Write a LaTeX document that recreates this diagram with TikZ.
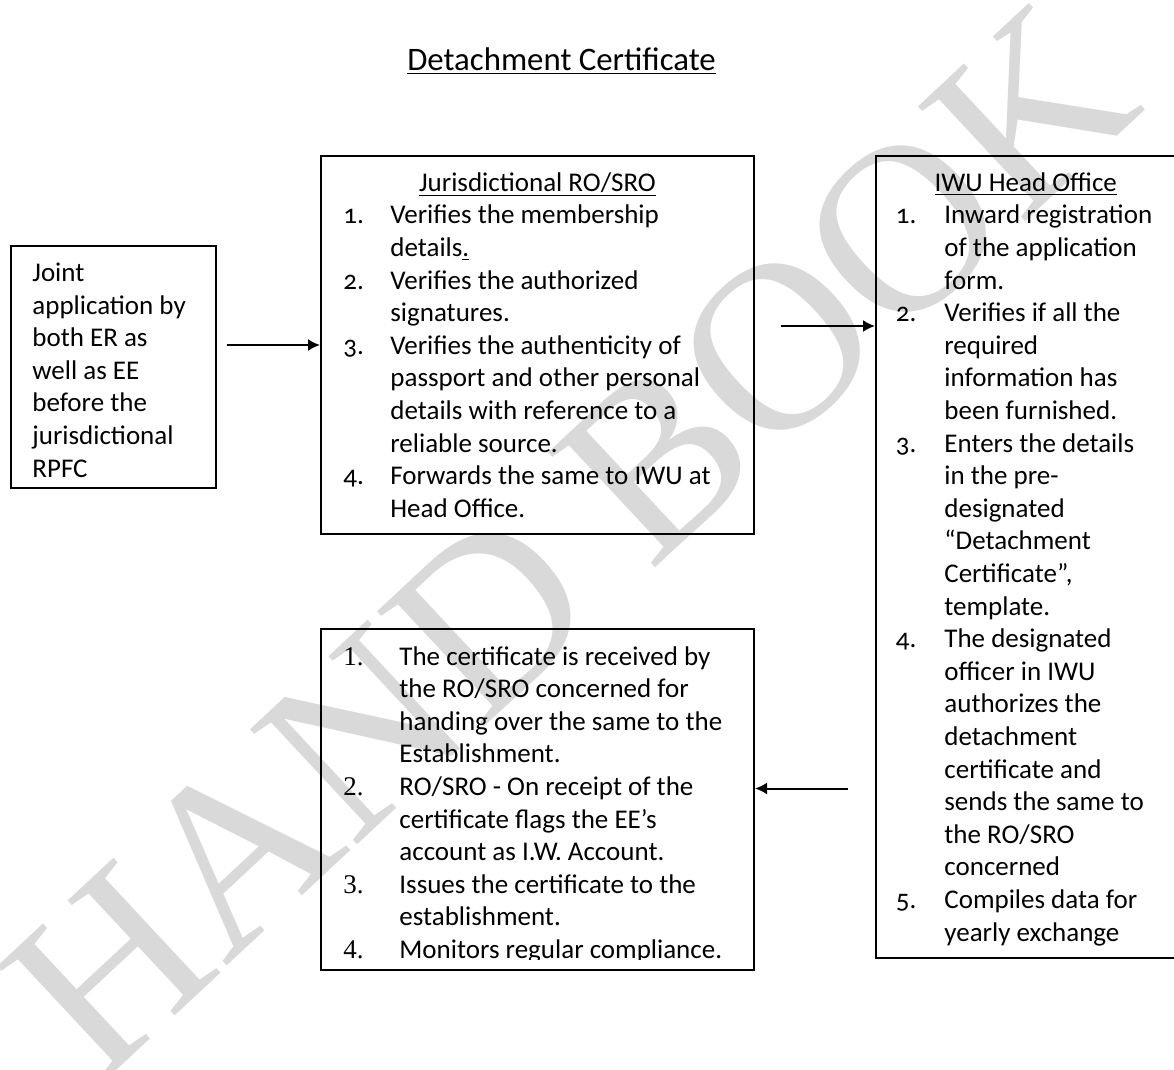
\documentclass[tikz,border=0pt]{standalone}
\usepackage{fontspec}
\setmainfont{Carlito}[Numbers=OldStyle]
\newfontfamily\numfont{Liberation Serif}
\newfontfamily\wmfont{Liberation Serif}
\usetikzlibrary{positioning}
\usetikzlibrary{calc}
\usetikzlibrary{arrows.meta}

\tikzset{
  box/.style={draw, line width=1pt, inner sep=0pt, anchor=north west},
  txt/.style={inner sep=0pt, anchor=base west, font=\fontsize{13.5}{16.3}\selectfont},
  head/.style={inner sep=0pt, anchor=base, font=\fontsize{13.5}{16.3}\selectfont},
  arr/.style={-{Latex[length=6pt,width=6pt]}, line width=1pt},
  wmark/.style={inner sep=0pt, text=black!15, rotate=43, font=\wmfont\fontsize{120}{120}\selectfont},
}

\begin{document}
\begin{tikzpicture}[x=0.5pt, y=-0.5pt]

\pgfmathsetmacro{\FST}{36.5}
\pgfmathsetmacro{\LSK}{32.5}

\useasboundingbox (0,0) rectangle (1174,1070);

\node [wmark] (wm) at (570,540) {HAND BOOK};

\node [inner sep=0pt, anchor=base, font=\fontsize{16.4}{20}\selectfont] (title) at (561.5,70.5) {\underline{Detachment Certificate}};

\node [box, minimum width=102.5pt, minimum height=120.5pt] (app) at (10,245.5) {};
\node [txt] (apptxt) at ($(app.north west) + (22, 36)$) {\begin{tabular}[t]{@{}l@{}}
Joint\\
application by\\
both ER as\\
well as EE\\
before the\\
jurisdictional\\
RPFC
\end{tabular}};

\node [box, minimum width=216.5pt, minimum height=189pt] (jrd) at (320,155) {};
\node [head] (jrdhead) at ($(jrd.north) + (0, \FST)$) {\underline{Jurisdictional RO/SRO}};
\node [txt] (jrdtxt) at ($(jrd.north west) + (23, \FST+\LSK)$) {\begin{tabular}[t]{@{}p{23.5pt}@{}l@{}}
1. & Verifies the membership\\
   & details\underline{.}\\
2. & Verifies the authorized\\
   & signatures.\\
3. & Verifies the authenticity of\\
   & passport and other personal\\
   & details with reference to a\\
   & reliable source.\\
4. & Forwards the same to IWU at\\
   & Head Office.
\end{tabular}};

\node [box, minimum width=149.75pt, minimum height=401pt] (iwu) at ($(jrd.north east) + (120, 0)$) {};
\node [head] (iwuhead) at ($(iwu.north) + (0, \FST)$) {\underline{IWU Head Office}};
\node [txt] (iwutxt) at ($(iwu.north west) + (20.5, \FST+\LSK)$) {\begin{tabular}[t]{@{}p{24.25pt}@{}l@{}}
1. & Inward registration\\
   & of the application\\
   & form.\\
2. & Verifies if all the\\
   & required\\
   & information has\\
   & been furnished.\\
3. & Enters the details\\
   & in the pre-\\
   & designated\\
   & “Detachment\\
   & Certificate”,\\
   & template.\\
4. & The designated\\
   & officer in IWU\\
   & authorizes the\\
   & detachment\\
   & certificate and\\
   & sends the same to\\
   & the RO/SRO\\
   & concerned\\
5. & Compiles data for\\
   & yearly exchange
\end{tabular}};

\node [box, minimum width=216.5pt, minimum height=170.5pt] (res) at ($(jrd.south west) + (0, 93)$) {};
\begin{scope}
\clip (res.north west) rectangle ($(res.south east) + (0, -12)$);
\node [txt] (restxt) at ($(res.north west) + (23, 37)$) {\begin{tabular}[t]{@{}p{28pt}@{}l@{}}
{\numfont 1.} & The certificate is received by\\
              & the RO/SRO concerned for\\
              & handing over the same to the\\
              & Establishment.\\
{\numfont 2.} & RO/SRO - On receipt of the\\
              & certificate flags the EE’s\\
              & account as I.W. Account.\\
{\numfont 3.} & Issues the certificate to the\\
              & establishment.\\
{\numfont 4.} & Monitors regular compliance.
\end{tabular}};
\end{scope}

\draw [arr] ($(app.east |- jrd.west) + (10, 0)$) -- (jrd.west);
\draw [arr] ($(jrd.east) + (26, -19)$) -- ($(iwu.west |- jrd.east) + (0, -19)$);
\draw [arr] ($(iwu.west |- res.east) + (-27, -11)$) -- ($(res.east) + (0, -11)$);

\end{tikzpicture}
\end{document}
